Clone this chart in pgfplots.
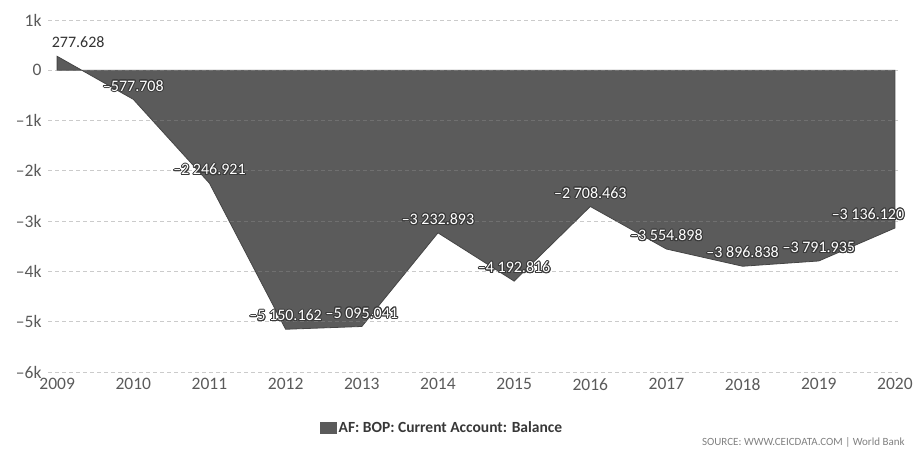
\documentclass[border=0pt]{standalone}
\usepackage{pgfplots}
\pgfplotsset{compat=1.18}
\usepackage{fontspec}
\setmainfont{Carlito}
\usepackage{contour}
\contourlength{1.0bp}
\definecolor{areafill}{HTML}{5B5B5B}
\definecolor{arealine}{HTML}{454545}
\definecolor{ticklab}{HTML}{5A5A5A}
\definecolor{gridc}{HTML}{8B8B8B}
\definecolor{labout}{HTML}{3A3A3A}
\begin{document}
\begin{tikzpicture}[x=1bp,y=1bp]
\useasboundingbox (0,0) rectangle (916,450);
\begin{axis}[
  at={(48bp,78bp)}, anchor=south west, scale only axis,
  width=850bp, height=352bp,
  xmin=2008.88, xmax=2020.04, ymin=-6000, ymax=1000,
  axis line style={draw=none}, major tick length=0pt,
  xtick={2009,2010,...,2020},
  xticklabels={2009,2010,2011,2012,2013,2014,2015,2016,2017,2018,2019,2020},
  ytick={-6000,-5000,-4000,-3000,-2000,-1000,0,1000},
  yticklabels={–6k,–5k,–4k,–3k,–2k,–1k,0,1k},
  ymajorgrids, grid style={dash pattern=on 4bp off 3bp, gridc, opacity=0.45, line width=0.8bp},
  axis on top,
  tick label style={font=\fontsize{17.5bp}{17.5bp}\selectfont, text=ticklab},
  xticklabel style={yshift=-3bp},
  yticklabel style={xshift=-3bp},
  legend style={draw=none, fill=none, at={(0.4635,-0.159)}, anchor=center,
    font=\fontsize{15.5bp}{15.5bp}\selectfont\bfseries, text=black!78},
  legend image code/.code={\fill[areafill] (-8bp,-5bp) rectangle (8bp,6bp);},
  clip=false,
]
\addplot[fill=areafill, draw=arealine, line width=0.8bp] coordinates {
 (2009,277.628) (2010,-577.708) (2011,-2246.921) (2012,-5150.162)
 (2013,-5095.041) (2014,-3232.893) (2015,-4192.816) (2016,-2708.463)
 (2017,-3554.898) (2018,-3896.838) (2019,-3791.935) (2020,-3136.120)
} \closedcycle;
\addlegendentry{AF: BOP: Current Account: Balance}
% value labels (inside / on area)
\addplot[draw=none, mark=none, forget plot, point meta=explicit symbolic,
  nodes near coords={\contour{labout}{\pgfplotspointmeta}},
  nodes near coords style={anchor=south, inner sep=0pt, yshift=7bp, text=white,
    font=\fontsize{16bp}{16bp}\selectfont}]
 coordinates {
 (2010,-577.708) [–577.708]
 (2011,-2246.921) [–2 246.921]
 (2012,-5150.162) [–5 150.162]
 (2013,-5095.041) [–5 095.041]
 (2014,-3232.893) [–3 232.893]
 (2015,-4192.816) [–4 192.816]
 (2016,-2708.463) [–2 708.463]
 (2017,-3554.898) [–3 554.898]
 (2018,-3896.838) [–3 896.838]
 (2019,-3791.935) [–3 791.935]
};
\addplot[draw=none, mark=none, forget plot, point meta=explicit symbolic,
  nodes near coords={\contour{labout}{\pgfplotspointmeta}},
  nodes near coords style={anchor=south, inner sep=0pt, yshift=7bp, xshift=-27bp, text=white,
    font=\fontsize{16bp}{16bp}\selectfont}]
 coordinates {(2020,-3136.120) [–3 136.120]};
\addplot[draw=none, mark=none, forget plot, point meta=explicit symbolic,
  nodes near coords={\contour{white}{\pgfplotspointmeta}},
  nodes near coords style={anchor=south, inner sep=0pt, yshift=7bp, xshift=21bp, text=black!80,
    font=\fontsize{16bp}{16bp}\selectfont}]
 coordinates {(2009,277.628) [277.628]};
\node[anchor=east, inner sep=0pt, text=black!50, font=\fontsize{11bp}{11bp}\selectfont]
  at (rel axis cs:1.008,-0.199) {SOURCE: WWW.CEICDATA.COM | World Bank};
\end{axis}
\end{tikzpicture}
\end{document}
